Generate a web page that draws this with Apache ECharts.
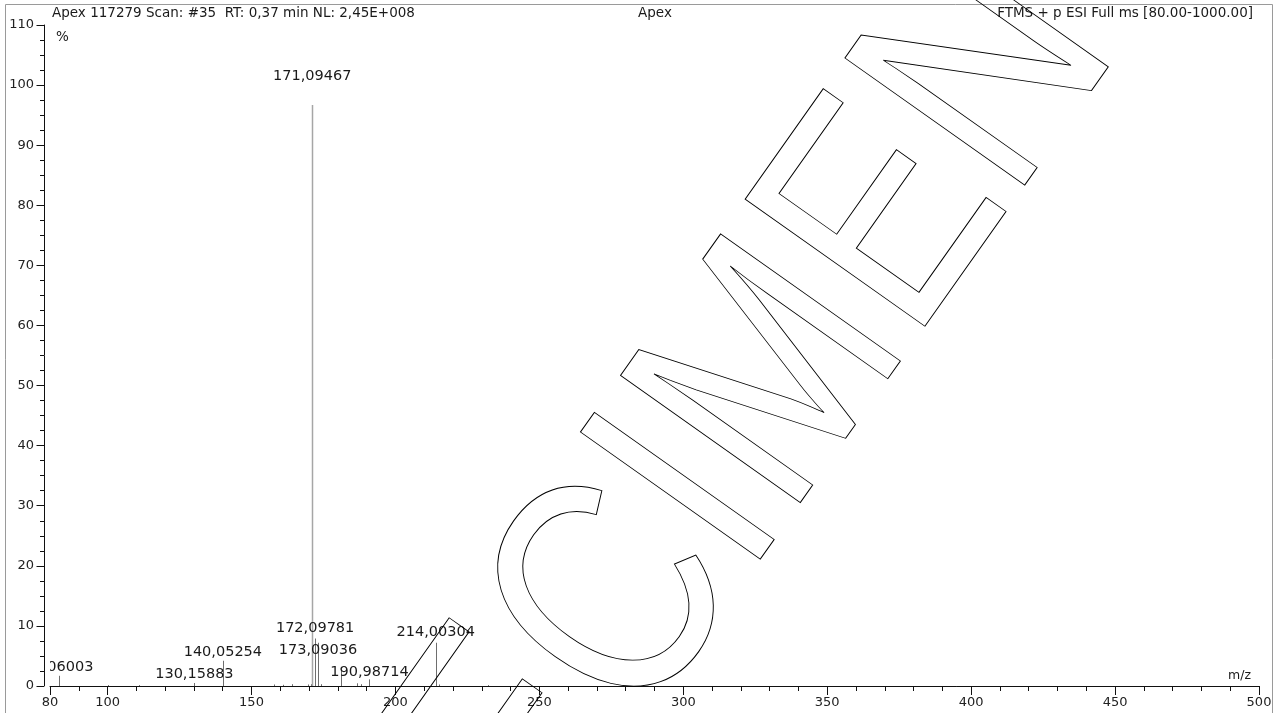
<!DOCTYPE html>
<html>
<head>
<meta charset="utf-8">
<script src="https://cdn.jsdelivr.net/npm/echarts@6/dist/echarts.min.js"></script>
<style>
html,body{margin:0;padding:0;background:#fff;}
#chart{width:1280px;height:713px;}
</style>
</head>
<body>
<div id="chart"></div>
<script>
// ---- data ----
const peakMz = [83.06003, 100.2, 111.0, 130.15883, 140.05254, 157.9, 161.0, 164.0, 169.7, 170.5,
                171.09467, 172.09781, 173.09036, 174.1, 180.97, 186.5, 188.0, 190.98714, 214.00304, 215.0, 232.0];
const peakIntensity = [1.7, 0.15, 0.15, 0.5, 4.2, 0.25, 0.2, 0.3, 0.25, 0.3,
                       96.7, 7.9, 7.2, 0.3, 2.7, 0.45, 0.3, 1.1, 7.2, 0.25, 0.15];
const labelMz = [83.06003, 130.15883, 140.05254, 171.09467, 172.09781, 173.09036, 190.98714, 214.00304];
const labelText = ['83,06003', '130,15883', '140,05254', '171,09467', '172,09781', '173,09036', '190,98714', '214,00304'];
const labelLevel = [3.2, 2.0, 5.66, 101.5, 9.65, 6.0, 2.33, 9.0];

const xMajorLabels = [80, 100, 150, 200, 250, 300, 350, 400, 450, 500];
const headerLeft = 'Apex 117279 Scan: #35  RT: 0,37 min NL: 2,45E+008';
const headerMid = 'Apex';
const headerRight = 'FTMS + p ESI Full ms [80.00-1000.00]';
const yUnit = '%';
const xUnit = 'm/z';
const watermark = 'SPECIMEN';

const FONT = '"DejaVu Sans", sans-serif';
const chart = echarts.init(document.getElementById('chart'), null, {renderer: 'canvas'});

const stickData = peakMz.map((m, i) => [m, peakIntensity[i]]);
const labelData = labelMz.map((m, i) => [m, labelLevel[i], i]);

const option = {
  backgroundColor: '#ffffff',
  animation: false,
  grid: {left: 50, right: 21, top: 25, bottom: 27},
  xAxis: [{
    type: 'value', min: 80, max: 500, interval: 10,
    axisLine: {show: true, onZero: false, lineStyle: {color: '#111', width: 1}},
    axisTick: {show: true, length: 5, lineStyle: {color: '#111'}},
    axisLabel: {customValues: xMajorLabels, margin: 10, color: '#222', fontFamily: FONT, fontSize: 13},
    splitLine: {show: false}
  }, {
    type: 'value', min: 80, max: 500, position: 'bottom',
    axisLine: {show: false, onZero: false},
    axisTick: {show: true, length: 9, customValues: xMajorLabels, lineStyle: {color: '#111'}},
    axisLabel: {show: false},
    splitLine: {show: false}
  }],
  yAxis: {
    type: 'value', min: 0, max: 110, interval: 10, offset: 6,
    axisLine: {show: true, lineStyle: {color: '#111', width: 1}},
    axisTick: {show: true, length: 7.5, lineStyle: {color: '#111'}},
    minorTick: {show: true, splitNumber: 4, length: 4, lineStyle: {color: '#111'}},
    axisLabel: {margin: 10, color: '#222', fontFamily: FONT, fontSize: 13},
    splitLine: {show: false},
    minorSplitLine: {show: false}
  },
  series: [{
    type: 'custom',
    clip: true,
    xAxisIndex: 0,
    data: stickData,
    encode: {x: 0, y: 1},
    renderItem: function (params, api) {
      const x = api.value(0), y = api.value(1);
      const p0 = api.coord([x, 0]);
      const p1 = api.coord([x, y]);
      const px = Math.round(p0[0]) + 0.5;
      return {
        type: 'line',
        shape: {x1: px, y1: p0[1], x2: px, y2: p1[1]},
        style: {stroke: y > 50 ? '#a6a6a6' : '#6e6e6e', lineWidth: y > 50 ? 1.5 : 1}
      };
    }
  }, {
    type: 'custom',
    clip: true,
    xAxisIndex: 0,
    data: labelData,
    encode: {x: 0, y: 1},
    renderItem: function (params, api) {
      const p = api.coord([api.value(0), api.value(1)]);
      return {
        type: 'text',
        x: p[0], y: p[1],
        style: {
          text: labelText[api.value(2)],
          font: '14.5px ' + FONT,
          fill: '#1a1a1a',
          textAlign: 'center',
          textVerticalAlign: 'middle'
        }
      };
    }
  }],
  graphic: [
    {type: 'rect', silent: true, z: 0, shape: {x: 5.5, y: 4.5, width: 1267, height: 730},
     style: {fill: 'none', stroke: '#9a9a9a', lineWidth: 1}},
    {type: 'text', silent: true, x: 52, y: 13.5,
     style: {text: headerLeft, font: '13.5px ' + FONT, fill: '#1a1a1a', textAlign: 'left', textVerticalAlign: 'middle'}},
    {type: 'text', silent: true, x: 56, y: 37.5,
     style: {text: yUnit, font: '13.5px ' + FONT, fill: '#1a1a1a', textAlign: 'left', textVerticalAlign: 'middle'}},
    {type: 'text', silent: true, x: 655, y: 13.5,
     style: {text: headerMid, font: '13.5px ' + FONT, fill: '#1a1a1a', textAlign: 'center', textVerticalAlign: 'middle'}},
    {type: 'text', silent: true, x: 1253, y: 13.5,
     style: {text: headerRight, font: '13.5px ' + FONT, fill: '#1a1a1a', textAlign: 'right', textVerticalAlign: 'middle'}},
    {type: 'text', silent: true, x: 1228, y: 676,
     style: {text: xUnit, font: '12.5px ' + FONT, fill: '#1a1a1a', textAlign: 'left', textVerticalAlign: 'middle'}},
    {type: 'text', silent: true, z: 100, x: 266.9, y: 1104.1,
     rotation: 54.74 * Math.PI / 180, scaleX: 0.81, scaleY: 1,
     style: {text: watermark, font: '320px "Liberation Sans", Arial, sans-serif', fill: 'none',
             stroke: '#000', lineWidth: 1, textAlign: 'left', textVerticalAlign: 'middle'}}
  ]
};
chart.setOption(option);
</script>
</body>
</html>
